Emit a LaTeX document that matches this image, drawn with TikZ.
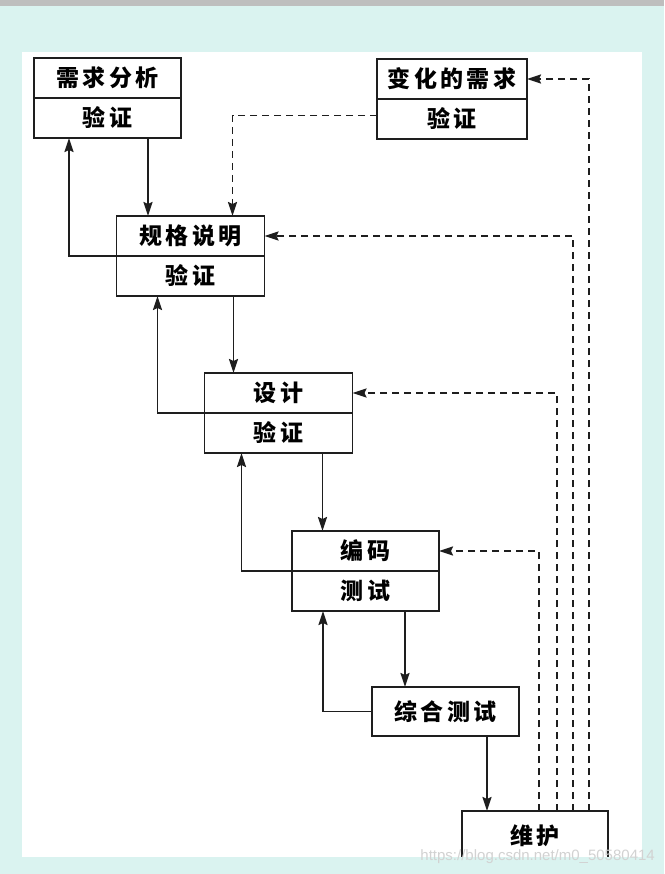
\documentclass[tikz,border=0pt]{standalone}
\usepackage{fontspec}
\newfontfamily\cjk{Noto Sans CJK SC}[LetterSpace=15]
\newfontfamily\markfont{Liberation Sans}
\usepackage{tikz}
\usetikzlibrary{arrows.meta,positioning}
\usepackage{xcolor}
\definecolor{bgcyan}{RGB}{218,243,240}
\definecolor{topgray}{RGB}{190,190,190}
\definecolor{inkline}{RGB}{30,30,30}
\tikzstyle{stage} = [draw=inkline, line width=1.6pt, fill=white, minimum width=148pt, minimum height=40pt, inner sep=0pt, outer sep=0pt, font=\cjk\bfseries\fontsize{23}{25}\selectfont]
\tikzstyle{arrow} = [line width=1.8pt, color=inkline, -{Stealth[length=14pt,width=9pt,inset=2pt]}]
\tikzstyle{change} = [arrow, dash pattern=on 7pt off 5pt]

\begin{document}
\begin{tikzpicture}[x=1pt, y=-1pt]
% Background
\fill[bgcyan] (0,0) rectangle (664,874);
\fill[topgray] (0,0) rectangle (664,6);
\fill[white] (22,52) rectangle (642,857);
\useasboundingbox (0,0) rectangle (664,874);

% Stages
\node[stage, minimum width=147pt] (req) at (107.5,78) {需求分析};
\node[stage, minimum width=147pt, below=0pt of req] (reqv) {验证};
\node[stage, minimum width=150pt] (chg) at (452,79) {变化的需求};
\node[stage, minimum width=150pt, below=0pt of chg] (chgv) {验证};
\node[stage] (spec) at (190.5,236) {规格说明};
\node[stage, below=0pt of spec] (specv) {验证};
\node[stage] (des) at (278.5,393) {设计};
\node[stage, below=0pt of des] (desv) {验证};
\node[stage, minimum width=147pt] (code) at (365.5,551) {编码};
\node[stage, minimum width=147pt, below=0pt of code] (codev) {测试};
\node[stage, minimum width=147pt, minimum height=49pt] (integ) at (445.5,711.5) {综合测试};
\node[stage, minimum width=146pt, minimum height=50pt] (maint) at (535,836) {维护};

% Flow points
\coordinate (o1) at ([xshift=-33pt]reqv.south east);
\coordinate (o2) at ([xshift=-31pt]specv.south east);
\coordinate (o3) at ([xshift=-30pt]desv.south east);
\coordinate (o4) at ([xshift=-34pt]codev.south east);
\coordinate (o5) at ([xshift=-32pt]integ.south east);
\coordinate (b1) at ([xshift=35pt]reqv.south west);
\coordinate (b2) at ([xshift=41pt]specv.south west);
\coordinate (b3) at ([xshift=37pt]desv.south west);
\coordinate (b4) at ([xshift=31pt]codev.south west);
\coordinate (c0) at ([yshift=3.5pt]chgv.west);
\coordinate (c1) at ([xshift=116pt]spec.north west);
\coordinate (m1) at ([xshift=77pt]maint.north west);
\coordinate (m2) at ([xshift=95pt]maint.north west);
\coordinate (m3) at ([xshift=111pt]maint.north west);
\coordinate (m4) at ([xshift=127pt]maint.north west);

% Forward
\draw[arrow] (o1) -- (o1 |- spec.north);
\draw[arrow] (o2) -- (o2 |- des.north);
\draw[arrow] (o3) -- (o3 |- code.north);
\draw[arrow] (o4) -- (o4 |- integ.north);
\draw[arrow] (o5) -- (o5 |- maint.north);

% Back
\draw[arrow] (spec.south west) -| (b1);
\draw[arrow] (des.south west) -| (b2);
\draw[arrow] (code.south west) -| (b3);
\draw[arrow] (integ.west) -| (b4);

% Changes
\draw[change] (c0) -| (c1);
\draw[change] (m4) |- (chg.east);
\draw[change] (m3) |- (spec.east);
\draw[change] (m2) |- (des.east);
\draw[change] (m1) |- (code.east);

% Frame bottom
\fill[bgcyan] (0,857) rectangle (664,874);
\node[anchor=base east, inner sep=0pt, text=gray!35, font=\markfont\fontsize{15}{15}\selectfont] (mark) at (655,860) {https://blog.csdn.net/m0\_50580414};
\end{tikzpicture}
\end{document}
